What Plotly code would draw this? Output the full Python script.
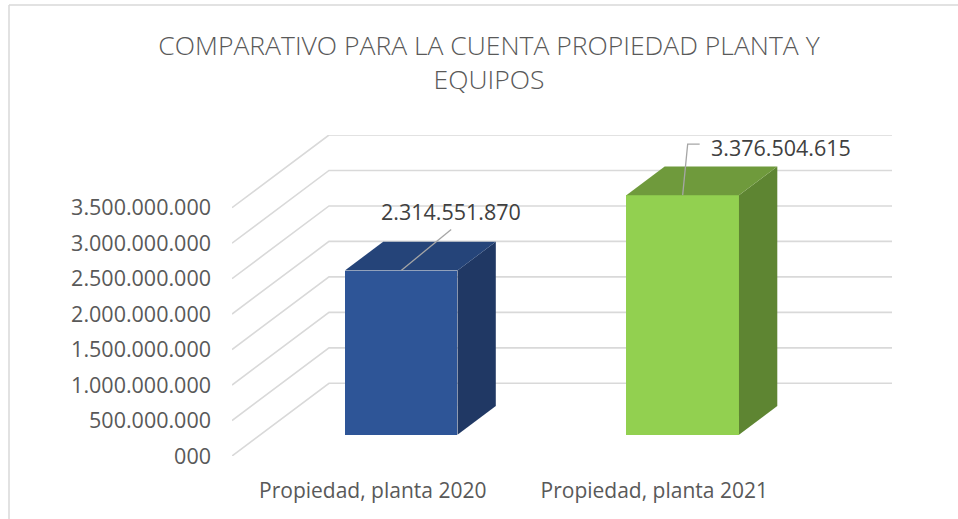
import plotly.graph_objects as go

# ---- data ----
categories = ["Propiedad, planta 2020", "Propiedad, planta 2021"]
values = [2314551870, 3376504615]
value_labels = ["2.314.551.870", "3.376.504.615"]
tick_values = [0, 500000000, 1000000000, 1500000000, 2000000000, 2500000000, 3000000000, 3500000000]
tick_labels = ["000", "500.000.000", "1.000.000.000", "1.500.000.000", "2.000.000.000",
               "2.500.000.000", "3.000.000.000", "3.500.000.000"]
title_text = "COMPARATIVO PARA LA CUENTA PROPIEDAD PLANTA Y<br>EQUIPOS"

# ---- styling / geometry ----
front_colors = ["#2E5597", "#92D050"]
top_colors = ["#254479", "#6F9A3C"]
side_colors = ["#203864", "#5E8532"]
grid_color = "#D9D9D9"
leader_color = "#A6A6A6"
FONT = "Open Sans"

W_PX, H_PX = 958, 519
L, R, T, B = 232, 66, 135, 63
plot_w = W_PX - L - R
plot_h = H_PX - T - B
back_dx_px, back_dy_px = 97.0, 72.7          # pixel offset of the back wall
W = (plot_w - back_dx_px) / 2.0              # px per category
DX = back_dx_px / W                          # depth offset in category units
S = (plot_h - back_dy_px) / max(tick_values) # px per value unit
DY = back_dy_px / S                          # depth offset in value units
ymax = max(tick_values) + DY
z_front, z_back = 0.293, 0.688
half = 0.2

def px_x(p):
    return p / W

def px_y(p):
    return p / S

fig = go.Figure()

# gridlines (front edge -> back wall -> right)
shapes = []
for v in tick_values:
    xs = [-0.5, -0.5 + DX, 1.5 + DX]
    ys = [v, v + DY, v + DY]
    path = "M {} {} L {} {} L {} {}".format(xs[0], ys[0], xs[1], ys[1], xs[2], ys[2])
    shapes.append(dict(type="path", path=path, xref="x", yref="y", layer="below",
                       line=dict(color=grid_color, width=1.6)))

# chart border (left + top edges only)
bx = (9 - L) / plot_w
by = (H_PX - B - 5) / plot_h
bx_right = (W_PX - L) / plot_w
by_bottom = -B / plot_h
shapes.append(dict(type="line", xref="paper", yref="paper", x0=bx, x1=bx, y0=by_bottom, y1=by,
                   line=dict(color="#D9D9D9", width=1.5), layer="below"))
shapes.append(dict(type="line", xref="paper", yref="paper", x0=bx, x1=bx_right, y0=by, y1=by,
                   line=dict(color="#D9D9D9", width=1.5), layer="below"))

for i, v in enumerate(values):
    xf = i + z_front * DX
    yb = z_front * DY
    # front face
    fig.add_trace(go.Bar(x=[xf], y=[v], base=[yb], width=[2 * half],
                         marker=dict(color=front_colors[i], line=dict(width=0)),
                         hoverinfo="skip", showlegend=False))
    dxb = (z_back - z_front) * DX
    dyb = (z_back - z_front) * DY
    # side face
    sx = [xf + half, xf + half + dxb, xf + half + dxb, xf + half, xf + half]
    sy = [yb, yb + dyb, yb + v + dyb, yb + v, yb]
    fig.add_trace(go.Scatter(x=sx, y=sy, fill="toself", fillcolor=side_colors[i],
                             mode="lines", line=dict(width=0, color=side_colors[i]),
                             hoverinfo="skip", showlegend=False))
    # top face
    tx = [xf - half, xf + half, xf + half + dxb, xf - half + dxb, xf - half]
    ty = [yb + v, yb + v, yb + v + dyb, yb + v + dyb, yb + v]
    fig.add_trace(go.Scatter(x=tx, y=ty, fill="toself", fillcolor=top_colors[i],
                             mode="lines", line=dict(width=0, color=top_colors[i]),
                             hoverinfo="skip", showlegend=False))

# data labels with leader lines
x0, y0 = 0 + z_front * DX, values[0] + z_front * DY
fig.add_trace(go.Scatter(x=[x0, x0 + px_x(50)], y=[y0, y0 + px_y(41)], mode="lines",
                         line=dict(color=leader_color, width=1.3), hoverinfo="skip", showlegend=False))
x1, y1 = 1 + z_front * DX, values[1] + z_front * DY
fig.add_trace(go.Scatter(x=[x1, x1 + px_x(5), x1 + px_x(17)], y=[y1, y1 + px_y(51), y1 + px_y(51)],
                         mode="lines", line=dict(color=leader_color, width=1.3),
                         hoverinfo="skip", showlegend=False))

annotations = [
    dict(x=x0 + px_x(50), y=y0 + px_y(59), xref="x", yref="y", text=value_labels[0],
         showarrow=False, xanchor="center", yanchor="middle",
         font=dict(family=FONT, size=21.5, color="#404040")),
    dict(x=x1 + px_x(26), y=y1 + px_y(48), xref="x", yref="y", text=value_labels[1],
         showarrow=False, xanchor="left", yanchor="middle",
         font=dict(family=FONT, size=21.5, color="#404040")),
]

fig.update_layout(
    width=W_PX, height=H_PX,
    margin=dict(l=L, r=R, t=T, b=B, pad=0),
    paper_bgcolor="white", plot_bgcolor="rgba(0,0,0,0)",
    title=dict(text=title_text, x=489 / W_PX, xanchor="center", y=1 - 55 / H_PX, yanchor="middle",
               font=dict(family=FONT, size=26.5, color="#595959", weight=300)),
    shapes=shapes, annotations=annotations,
    bargap=0, showlegend=False,
    xaxis=dict(range=[-0.5, 1.5 + DX], tickmode="array", tickvals=[0, 1], ticktext=categories,
               showgrid=False, zeroline=False, showline=False, ticks="",
               ticklabelstandoff=20, fixedrange=True,
               tickfont=dict(family=FONT, size=21, color="#595959")),
    yaxis=dict(range=[0, ymax], tickmode="array", tickvals=tick_values, ticktext=tick_labels,
               showgrid=False, zeroline=False, showline=False, ticks="",
               ticklabelstandoff=20, fixedrange=True,
               tickfont=dict(family=FONT, size=21.5, color="#595959")),
)

fig.write_html("out.html", config={"displayModeBar": False},
               post_script=("document.documentElement.style.overflow='hidden';"
                            "document.body.style.margin='0';document.body.style.overflow='hidden';"))
